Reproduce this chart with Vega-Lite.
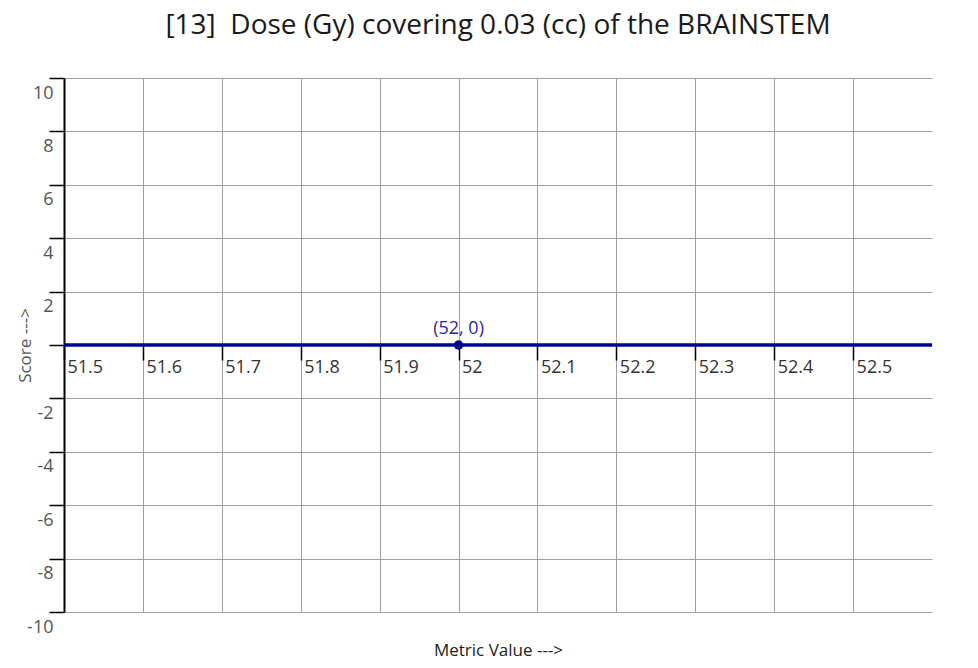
{
  "$schema": "https://vega.github.io/schema/vega-lite/v6.json",
  "width": 868,
  "height": 534,
  "autosize": "none",
  "padding": {"left": 64, "top": 78, "right": 46, "bottom": 56},
  "background": "white",
  "config": {"view": {"stroke": null}, "font": "Open Sans"},
  "title": {
    "text": "[13]\u00a0 Dose (Gy) covering 0.03 (cc) of the BRAINSTEM",
    "fontSize": 28,
    "fontWeight": "normal",
    "color": "#1a1a1a",
    "font": "Open Sans",
    "baseline": "alphabetic",
    "offset": 15,
    "anchor": "middle"
  },
  "data": {
    "values": [
      {"metric": 51.5, "score": 0, "label": ""},
      {"metric": 52, "score": 0, "label": "(52, 0)"},
      {"metric": 52.6, "score": 0, "label": ""}
    ]
  },
  "encoding": {
    "x": {
      "field": "metric",
      "type": "quantitative",
      "scale": {"domain": [51.5, 52.6], "nice": false, "zero": false},
      "axis": {
        "title": "Metric Value --->",
        "values": [51.5, 51.6, 51.7, 51.8, 51.9, 52, 52.1, 52.2, 52.3, 52.4, 52.5],
        "offset": -267,
        "labelExpr": "toString(round(datum.value*10)/10)",
        "labelAlign": "left",
        "labelBaseline": "middle",
        "labelOffset": 3,
        "labelPadding": 7,
        "labelFlush": false,
        "labelOverlap": false,
        "labelFontSize": 18,
        "labelColor": "#333333",
        "tickSize": 15,
        "tickColor": "#000000",
        "tickWidth": 1.5,
        "domain": false,
        "grid": true,
        "gridColor": "#a0a0a0",
        "gridWidth": 1,
        "titleFontSize": 17,
        "titleFontWeight": "normal",
        "titleColor": "#222222",
        "titleY": 305,
        "titleBaseline": "middle"
      }
    },
    "y": {
      "field": "score",
      "type": "quantitative",
      "scale": {"domain": [-10, 10], "nice": false},
      "axis": {
        "title": "Score --->",
        "values": [-10, -8, -6, -4, -2, 0, 2, 4, 6, 8, 10],
        "labelExpr": "datum.value == 0 ? '' : toString(datum.value)",
        "labelAlign": "right",
        "labelBaseline": "middle",
        "labelOffset": 15,
        "labelPadding": -4,
        "labelFlush": false,
        "labelOverlap": false,
        "labelFontSize": 18,
        "labelColor": "#555555",
        "tickSize": 15,
        "tickColor": "#000000",
        "tickWidth": 1.5,
        "domainColor": "#000000",
        "domainWidth": 2,
        "grid": true,
        "gridColor": "#a0a0a0",
        "gridWidth": 1,
        "titleFontSize": 17,
        "titleFontWeight": "normal",
        "titleColor": "#555555",
        "titleX": -39,
        "titleBaseline": "middle"
      }
    }
  },
  "layer": [
    {"mark": {"type": "line", "color": "#00008b", "strokeWidth": 3.5}},
    {
      "transform": [{"filter": "datum.label != ''"}],
      "mark": {"type": "circle", "size": 90, "color": "#00008b", "opacity": 1}
    },
    {
      "transform": [{"filter": "datum.label != ''"}],
      "mark": {"type": "text", "dy": -16, "fontSize": 18, "color": "#2a2aa0", "baseline": "middle", "align": "center"},
      "encoding": {"text": {"field": "label", "type": "nominal"}}
    }
  ]
}
